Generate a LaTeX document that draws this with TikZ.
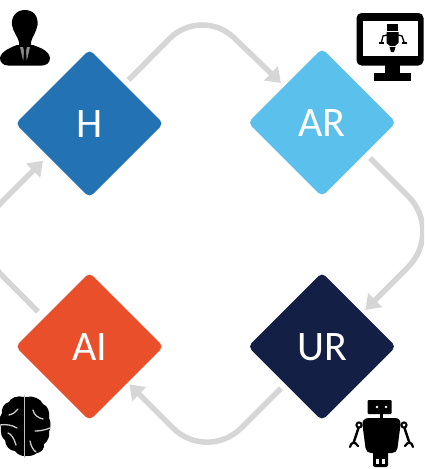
\documentclass[tikz,border=0pt]{standalone}
\usepackage{fontspec}
\setmainfont{Carlito}
\usetikzlibrary{shapes.geometric,arrows.meta}
\definecolor{cH}{HTML}{2272B4}
\definecolor{cAR}{HTML}{5BC0EB}
\definecolor{cAI}{HTML}{EA4F2B}
\definecolor{cUR}{HTML}{141F45}
\definecolor{cLine}{HTML}{D6D6D6}
\tikzset{
  dia/.style={diamond,aspect=1,minimum width=148pt,minimum height=148pt,inner sep=0pt,outer sep=0pt,
    rounded corners=5pt,text=white,font=\fontsize{42}{42}\selectfont,text height=28pt,text depth=0pt},
  flow/.style={draw=cLine,line width=5.5pt,-{Triangle[width=19pt,length=14pt]}},
  ink/.style={fill=black,draw=none},
  paper/.style={fill=white,draw=none},
  crease/.style={draw=white!80!black,line width=1.3pt,line cap=round}
}
\begin{document}
\begin{tikzpicture}[x=1pt,y=-1pt]
\useasboundingbox (0,0) rectangle (424,469);
\clip (0,0) rectangle (424,469);
\node[dia,fill=cH] (H) at (89.5,123.5) {H};
\node[dia,fill=cAR] (AR) at (322,122.5) {AR};
\node[dia,fill=cAI] (AI) at (89.5,346.5) {AI};
\node[dia,fill=cUR] (UR) at (322,346.5) {UR};
\coordinate (topbend) at (201.5,6.5);
\coordinate (rightbend) at (443.5,231.5);
\coordinate (bottombend) at (207,462);
\coordinate (leftbend) at (-34.5,238.5);
\draw[flow,rounded corners=45pt] ([shift={(39,-43.5)}]H.center) -- (topbend) -- ([shift={(-41,-39.5)}]AR.center);
\draw[flow,rounded corners=50pt] ([shift={(48,35.5)}]AR.center) -- (rightbend) -- ([shift={(43.3,-36.5)}]UR.center);
\draw[flow,rounded corners=48pt] ([shift={(-41,41.8)}]UR.center) -- (bottombend) -- ([shift={(39.8,37.8)}]AI.center);
\draw[flow,rounded corners=50pt] ([shift={(-51.5,-34.8)}]AI.center) -- (leftbend) -- ([shift={(-46.5,37.2)}]H.center);
% person
\fill[ink] (25,10) .. controls (34,10) and (38.5,17) .. (37.5,25) .. controls (36.5,32) and (32,37) .. (31,42) -- (31,47) -- (19,47) -- (19,42) .. controls (18,37) and (13,32) .. (12,25) .. controls (11,17) and (16,10) .. (25,10) -- cycle;
\fill[ink] (17,45) -- (33,45) .. controls (38,47) and (49,50) .. (50,58) .. controls (50,63) and (46,65.5) .. (42,65.5) -- (8,65.5) .. controls (3,65.5) and (0,62) .. (0,58) .. controls (1,51) and (12,47) .. (17,45) -- cycle;
\fill[white!55!black] (20,47) -- (30,47) -- (27,60) -- (23,60) -- cycle;
\fill[ink] (23.2,47) -- (26.8,47) -- (26,51) -- (26.6,60) -- (23.4,60) -- (24,51) -- cycle;
% monitor
\fill[ink,rounded corners=5pt] (356.5,13) rectangle (423.5,65.5);
\fill[paper] (362.5,21) rectangle (417.5,56);
\fill[ink] (385,65) rectangle (400,73);
\fill[ink] (373.5,73) rectangle (411,81);
\fill[ink] (387,24) rectangle (398,31);
\fill[ink] (386.5,32) -- (398.5,32) -- (398.5,43) -- (395,46) -- (390,46) -- (386.5,43) -- cycle;
\fill[ink] (389.5,47) -- (395.5,47) -- (394,52) -- (391,52) -- cycle;
\draw[black,line width=1.3pt] (387,35) -- (383,36) -- (381.5,42);
\draw[black,line width=1.3pt] (398,35) -- (402,36) -- (404,42);
\fill[ink] (379,41.5) rectangle (384,44);
\fill[ink] (402,41.5) rectangle (406.5,44);
% robot
\fill[ink,rounded corners=1pt] (367.7,400) rectangle (391.7,414);
\fill[paper] (377,407) circle (1.4);
\fill[paper] (386,407) circle (1.4);
\fill[ink] (379.5,414) rectangle (383,419);
\fill[ink] (369,418) -- (395,418) .. controls (399,418) and (401,421) .. (400.5,425) -- (397.5,448) .. controls (397,451) and (395,453) .. (392,453) -- (371,453) .. controls (368,453) and (366,451) .. (365.5,448) -- (362.5,425) .. controls (362,421) and (364,418) .. (369,418) -- cycle;
\fill[ink,rounded corners=2pt] (373,450) rectangle (388,467);
\fill[paper] (376,459) rectangle (379,463.5);
\fill[paper] (382,459) rectangle (385,463.5);
\draw[black,line width=2pt] (359,425) circle (2.6);
\draw[black,line width=2pt] (404,425) circle (2.6);
\draw[black,line width=2.5pt] (358.5,428) -- (353.5,443);
\draw[black,line width=2.5pt] (404.5,428) -- (409.5,443);
\draw[black,line width=2.2pt,line cap=round] (350,447) .. controls (351,442) and (355,441) .. (358,446);
\draw[black,line width=2.2pt,line cap=round] (413,447) .. controls (412,442) and (408,441) .. (405,446);
% brain
\fill[ink] (24,397) .. controls (18,395) and (10,398) .. (9,402) .. controls (4,403) and (1,409) .. (2,413) .. controls (-1,417) and (-1,424) .. (1,427) .. controls (0,433) and (2,438) .. (5,440) .. controls (5,446) and (10,451) .. (15,451) .. controls (18,455) and (22,456) .. (24,456)
  -- (26,456) .. controls (30,456) and (33,456) .. (37,453) .. controls (41,453) and (45,448) .. (44,444) .. controls (48,441) and (50,436) .. (49,432) .. controls (51,428) and (51,421) .. (49,418) .. controls (50,412) and (48,406) .. (43,404) .. controls (41,399) and (33,395) .. (26,397) -- cycle;
\draw[white!75!black,line width=1.6pt] (24.5,395) -- (24.5,458);
\draw[crease] (9,415) .. controls (13,414) and (16,412) .. (18,409);
\draw[crease] (33,410) .. controls (34,415) and (38,418) .. (43,419);
\draw[crease] (0,425) .. controls (6,424) and (12,425) .. (17,428);
\draw[crease] (35,431) .. controls (40,431) and (45,430) .. (50,428);
\draw[crease] (8,433) .. controls (11,434) and (14,438) .. (16,445);
\draw[crease] (30,441) .. controls (31,446) and (33,450) .. (36,452);
\end{tikzpicture}
\end{document}
